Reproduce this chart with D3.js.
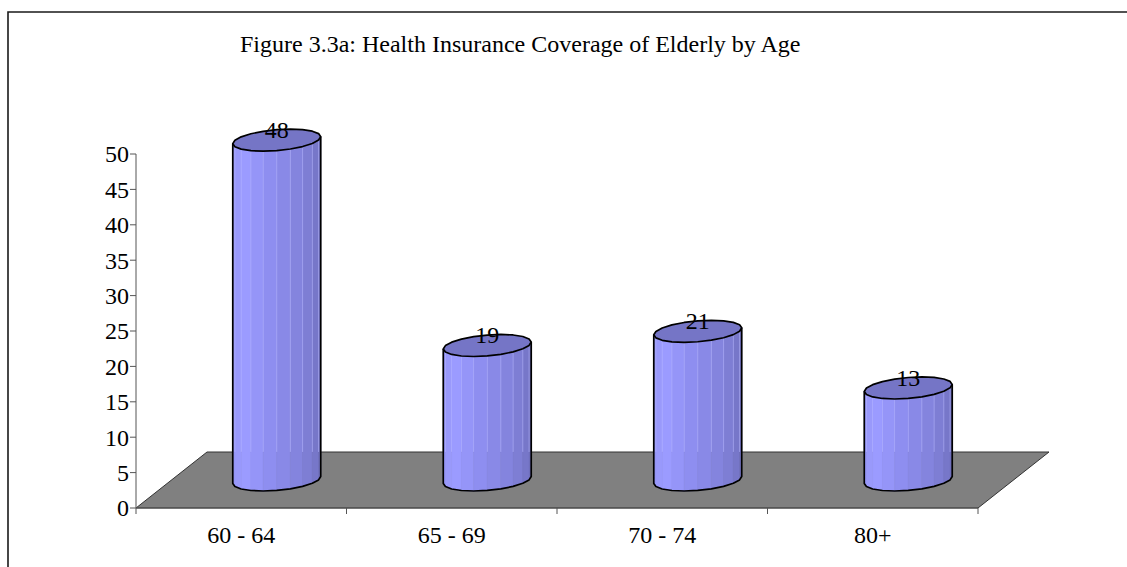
<!DOCTYPE html>
<html><head><meta charset="utf-8">
<script src="https://cdn.jsdelivr.net/npm/d3@7"></script>
<style>body{margin:0;background:#fff;} text{font-family:"Liberation Serif","Times New Roman",serif;fill:#000;}</style>
</head><body>
<svg id="c" width="1127" height="567"></svg>
<script>
const categories = ["60 - 64", "65 - 69", "70 - 74", "80+"];
const values = [48, 19, 21, 13];
const yTicks = [0, 5, 10, 15, 20, 25, 30, 35, 40, 45, 50];
const title = "Figure 3.3a: Health Insurance Coverage of Elderly by Age";

const svg = d3.select("#c");
const x = d3.scaleBand().domain(categories).range([136, 978]).padding(0);
const y = d3.scaleLinear().domain([0, 50]).range([508, 154]);
const DX = 71, DY = -56; // depth offset of floor
const ux = 0.785, uy = -0.619;
const R = 41.7, S = 17.8;
const FS = 24;

// border
svg.append("path").attr("d", "M8,567 L8,12 L1127,12").attr("fill", "none").attr("stroke", "#1a1a1a").attr("stroke-width", 1.6);

// title
svg.append("text").attr("x", 240).attr("y", 52).attr("font-size", 24).text(title);

// floor
const x0 = x.range()[0], x1 = x.range()[1], yb = y(0);
svg.append("path")
  .attr("d", `M${x0},${yb} L${x1},${yb} L${x1+DX},${yb+DY} L${x0+DX},${yb+DY} Z`)
  .attr("fill", "#808080").attr("stroke", "#333").attr("stroke-width", 1);

// y axis
const ya = svg.append("g");
ya.append("line").attr("x1", x0).attr("x2", x0).attr("y1", y(50)).attr("y2", y(0)).attr("stroke", "#555");
yTicks.forEach(t => {
  ya.append("line").attr("x1", x0 - 6).attr("x2", x0).attr("y1", y(t)).attr("y2", y(t)).attr("stroke", "#555");
  ya.append("text").attr("x", 129).attr("y", y(t)).attr("dy", "0.35em").attr("text-anchor", "end").attr("font-size", FS).text(t);
});

// x axis
svg.append("line").attr("x1", x0).attr("x2", x1).attr("y1", yb).attr("y2", yb).attr("stroke", "#555");
categories.concat(["_end"]).forEach((c, i) => {
  const xx = i < categories.length ? x(c) : x1;
  svg.append("line").attr("x1", xx).attr("x2", xx).attr("y1", yb).attr("y2", yb + 6).attr("stroke", "#555");
});
categories.forEach(c => {
  svg.append("text").attr("x", x(c) + x.bandwidth() / 2).attr("y", 543).attr("text-anchor", "middle").attr("font-size", FS).text(c);
});

// cylinders
const th0 = Math.atan2(S * ux, R);
const NF = 10;
const col = t => {
  const stops = [[0, "#9595F4"], [0.25, "#9B9BFF"], [0.45, "#8E8EF0"], [0.7, "#8181DA"], [1, "#6C6CB8"]];
  for (let i = 1; i < stops.length; i++) {
    if (t <= stops[i][0]) {
      const k = (t - stops[i-1][0]) / (stops[i][0] - stops[i-1][0]);
      return d3.interpolateRgb(stops[i-1][1], stops[i][1])(k);
    }
  }
  return stops[stops.length-1][1];
};
const backEdge = yb + DY;
categories.forEach((c, i) => {
  const v = values[i];
  const cx = x(c) + x.bandwidth() / 2 + DX / 2;
  const baseY = yb + DY / 2;
  const topY = y(v) + DY / 2;
  const P = (th, yc) => [cx + R * Math.cos(th) + S * ux * Math.sin(th), yc + S * uy * Math.sin(th)];
  const g = svg.append("g");
  const thL = Math.PI + th0, thR = 2 * Math.PI + th0;
  for (let f = 0; f < NF; f++) {
    const a = thL + (thR - thL) * f / NF, b = thL + (thR - thL) * (f + 1) / NF;
    const pts = [P(a, baseY), P(b, baseY), P(b, topY), P(a, topY)];
    const cc = col((f + 0.5) / NF);
    g.append("path").attr("d", "M" + pts.join("L") + "Z").attr("fill", cc).attr("stroke", cc).attr("stroke-width", 0.6);
  }
  // highlight lines above floor back edge
  for (let f = 1; f < NF; f++) {
    const a = thL + (thR - thL) * f / NF;
    const pt = P(a, topY);
    const yEnd = Math.min(backEdge, P(a, baseY)[1]);
    if (pt[1] < yEnd)
      g.append("line").attr("x1", pt[0]).attr("x2", pt[0]).attr("y1", pt[1]).attr("y2", yEnd)
        .attr("stroke", "#B4B4FF").attr("stroke-opacity", 0.55).attr("stroke-width", 1);
  }
  // outline of side
  const arc = d3.range(NF + 1).map(k => P(thL + (thR - thL) * k / NF, baseY));
  const side = [P(thL, topY)].concat(arc).concat([P(thR, topY)]);
  g.append("path").attr("d", "M" + side.join("L")).attr("fill", "none").attr("stroke", "#000").attr("stroke-width", 1.7).attr("stroke-linejoin", "round");
  // top
  const top = d3.range(20).map(k => P(k / 20 * 2 * Math.PI + th0, topY));
  g.append("path").attr("d", "M" + top.join("L") + "Z").attr("fill", "#7575C6").attr("stroke", "#000").attr("stroke-width", 1.7).attr("stroke-linejoin", "round");
  // label
  svg.append("text").attr("x", cx).attr("y", topY - 2).attr("text-anchor", "middle").attr("font-size", FS).text(v);
});
</script>
</body></html>
